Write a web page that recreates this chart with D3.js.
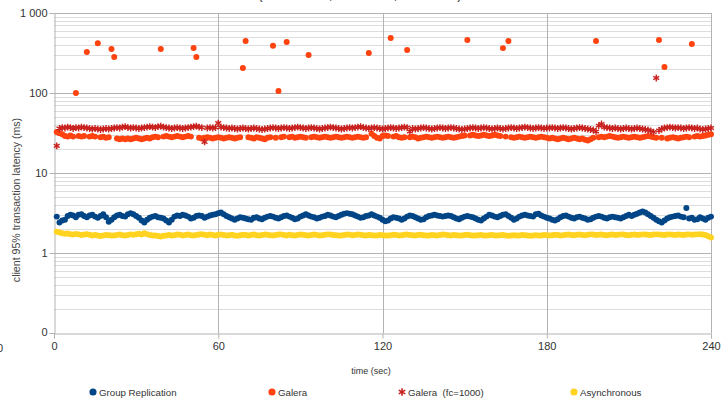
<!DOCTYPE html>
<html><head><meta charset="utf-8">
<script src="https://cdn.jsdelivr.net/npm/d3@7"></script>
<style>body{margin:0;background:#fff;}svg{display:block;font-family:"Liberation Sans",Arial,sans-serif;}</style>
</head><body><svg id="c" width="721" height="398"></svg>
<script>
const seriesNames = ["Group Replication", "Galera", "Galera  (fc=1000)", "Asynchronous"];
const xTicks = [0, 60, 120, 180, 240];
const yTicks = [0.1, 1, 10, 100, 1000];
const yTickLabels = ["0", "1", "10", "100", "1 000"];
const title = "OLTP RW Latencies (16 threads, 10 tables, 240 secs)";

const groupReplication = [
2.85,2.4,2.55,2.6,2.9,3.0,2.95,2.8,3.0,3.05,
2.9,2.8,2.95,3.0,2.85,2.75,2.9,3.05,2.8,2.45,
2.6,2.8,2.95,3.0,2.9,2.85,3.05,3.15,3.05,2.9,
2.75,2.55,2.4,2.6,2.75,2.85,2.9,2.8,2.75,2.7,
2.55,2.4,2.6,2.85,2.95,2.9,3.0,2.95,2.85,2.7,
2.75,2.9,2.95,2.9,2.75,2.85,2.95,3.0,3.05,3.15,
3.2,3.05,2.9,2.8,2.7,2.6,2.7,2.8,2.75,2.7,
2.65,2.6,2.75,2.8,2.7,2.65,2.75,2.85,2.9,2.85,
2.75,2.7,2.8,2.9,2.95,2.85,2.75,2.65,2.7,2.85,
2.95,3.05,2.95,2.85,2.8,2.7,2.75,2.85,2.9,3.0,
2.95,2.85,2.8,2.9,3.0,3.1,3.15,3.1,3.05,2.95,
2.85,2.75,2.8,2.9,2.95,3.05,2.95,2.85,2.75,2.6,
2.5,2.55,2.7,2.8,2.75,2.7,2.6,2.7,2.85,2.95,
2.9,2.8,2.7,2.6,2.65,2.8,2.9,2.95,3.0,2.95,
2.9,2.85,2.9,2.95,2.9,2.8,2.7,2.65,2.75,2.85,
2.9,2.85,2.8,2.7,2.6,2.55,2.7,2.85,3.0,2.95,
2.85,2.8,2.9,3.0,3.05,2.9,2.75,2.6,2.7,2.85,
2.95,3.0,2.95,2.9,2.85,3.05,3.1,2.95,2.85,2.75,
2.7,2.6,2.55,2.65,2.8,2.9,2.95,2.85,2.75,2.7,
2.8,2.85,2.75,2.7,2.6,2.65,2.75,2.85,2.9,2.85,
2.75,2.7,2.8,2.85,2.8,2.75,2.7,2.8,2.9,3.0,
2.9,3.0,3.1,3.2,3.3,3.2,3.05,2.9,2.75,2.6,
2.5,2.4,2.55,2.7,2.8,2.85,2.9,2.95,2.85,2.8,
3.65,2.7,2.75,2.6,2.65,2.8,2.7,2.6,2.75,2.85];

const galera = [
32.5,31.5,30.5,29,28.5,29.5,28.5,100,29,28.5,
29,325,28.5,29,28.5,420,28,28.5,27.5,28,
355,282,27,26.5,27,26.5,27,26.5,27,27.5,
27,26.5,27,27.5,27,28,28.5,28,355,28.5,
29,28.5,28,28.5,29,28.5,28,28.5,29,28.5,
365,282,27.5,27,27.5,28,27.5,27,27.5,28,
27.5,27,27.5,28,27.5,27,27.5,28,205,447,
28,27.5,27,28,27.5,27,26.5,27.5,28,390,
27.5,106,28,28.5,433,28,28.5,27.5,28,28.5,
28,27.5,298,28,28.5,28,27.5,28,28.5,28,
27.5,28,28.5,28,27.5,28,28.5,28,27.5,28,
28.5,28,27.5,28,316,31,29,27.5,27,29,
29.5,29,487,28.5,29,28,27.5,28,345,28,
28.5,28,27,27.5,28,28.5,28,27.5,28,28.5,
28,27.5,28,28.5,28,27.5,28,28.5,29,29.5,
460,29.5,30,29.5,29,29.5,30,29.5,29,29.5,
30,29.5,29,364,28.5,447,28,27.5,28,28.5,
28,27.5,28,28.5,28,27.5,28,28.5,28,27.5,
27,27.5,27,26.5,27,27.5,27,26.5,27,27.5,
27,26.5,27,26,25.5,26.5,27.5,447,28,28.5,
28,28.5,29,28.5,28,27.5,28,28.5,28,27.5,
28,28.5,28,27.5,28,28.5,29,28.5,28,27.5,
460,27.5,211,27,27.5,28,27.5,27,27.5,28,
28.5,28,410,28.5,29,28.5,29,29.5,30,30.5];

const galeraFc = [
21.8,36,37,36.5,37.5,37,36,37,36.5,37.5,
37,36.5,36,35.5,36,35.5,35,35.5,36,35.5,
36,36.5,37,36.5,37.5,38,37,36.5,37,36.5,
36,36.5,37,37.5,38,37.5,37,38,38.5,37.5,
37,36.5,36,36.5,37,36.5,36,36.5,37,37.5,
38,38.5,37.5,37,24.5,36.5,37,36.5,37,42,
37.5,37,36.5,36,36.5,36,35.5,36,36.5,36,
35.5,36,36.5,36,35.5,35,35.5,36,36.5,37,
36.5,36,36.5,37,36.5,36,36.5,37,37.5,37,
36.5,36,36.5,37,36.5,36,35.5,36,36.5,37,
37.5,37,36.5,36,35.5,36,36.5,37,36.5,37,
37.5,38,37,36.5,36,36.5,37,36.5,36,35.5,
36,36.5,37,36.5,36,36.5,37,37.5,37,33,
36,35.5,36,36.5,37,36.5,36,35.5,36,36.5,
37,36.5,36,36.5,37,36.5,36,35.5,35,35.5,
36,36.5,37,36.5,36,36.5,37,36.5,36,35.5,
36,36.5,36,35.5,36,36.5,37,36.5,36,36.5,
37,37.5,37,36.5,36,36.5,37,36.5,36,36.5,
36.5,37,36.5,36,36.5,37,36.5,36,35.5,36,
36.5,37,36.5,36,35.5,35,34.5,33,39,41,
37.5,37,36.5,36,36.5,36,35.5,36,36.5,36,
35.5,36,36.5,36,35.5,35,34.5,33.5,32.5,154,
34,35.5,36.5,37,37.5,37,36.5,37,36.5,36,
36.5,37,36.5,36,36.5,35.5,35,35.5,36,36.5];

const asynchronous = [
1.85,1.8,1.76,1.74,1.75,1.72,1.7,1.73,1.71,1.68,
1.7,1.72,1.69,1.66,1.68,1.65,1.63,1.66,1.68,1.67,
1.65,1.66,1.68,1.7,1.67,1.65,1.68,1.71,1.69,1.72,
1.74,1.7,1.76,1.72,1.68,1.65,1.66,1.63,1.61,1.64,
1.66,1.68,1.65,1.67,1.7,1.69,1.66,1.68,1.7,1.67,
1.65,1.68,1.7,1.72,1.69,1.67,1.7,1.68,1.66,1.69,
1.7,1.68,1.66,1.67,1.69,1.66,1.64,1.67,1.69,1.68,
1.66,1.68,1.7,1.67,1.65,1.68,1.7,1.69,1.67,1.66,
1.68,1.7,1.71,1.68,1.66,1.69,1.67,1.65,1.68,1.7,
1.69,1.67,1.66,1.68,1.7,1.68,1.66,1.67,1.69,1.71,
1.7,1.68,1.67,1.65,1.66,1.68,1.7,1.69,1.67,1.68,
1.7,1.69,1.67,1.66,1.68,1.67,1.65,1.66,1.68,1.67,
1.66,1.65,1.67,1.69,1.68,1.66,1.67,1.69,1.7,1.68,
1.67,1.66,1.68,1.69,1.67,1.65,1.66,1.68,1.67,1.66,
1.68,1.7,1.69,1.67,1.66,1.68,1.67,1.65,1.66,1.68,
1.69,1.67,1.66,1.65,1.67,1.68,1.66,1.65,1.67,1.68,
1.66,1.65,1.67,1.68,1.66,1.64,1.66,1.67,1.65,1.66,
1.68,1.67,1.65,1.64,1.66,1.67,1.65,1.66,1.68,1.67,
1.66,1.67,1.69,1.68,1.66,1.67,1.69,1.7,1.68,1.67,
1.69,1.7,1.68,1.67,1.69,1.71,1.7,1.68,1.69,1.7,
1.68,1.67,1.69,1.7,1.68,1.69,1.71,1.7,1.68,1.67,
1.69,1.7,1.68,1.69,1.71,1.7,1.69,1.68,1.7,1.71,
1.7,1.69,1.68,1.7,1.71,1.69,1.68,1.7,1.69,1.68,
1.7,1.71,1.69,1.7,1.71,1.72,1.7,1.68,1.62,1.56];

const colors = ["#004586", "#ff420e", "#c9211e", "#ffd320"];

const svg = d3.select("#c");
const x = d3.scaleLinear().domain([0, 240]).range([54, 711]);
const y = d3.scaleLog().domain([0.1, 1000]).range([333, 13]);

// minor gridlines
const minors = [];
for (let d = 0.1; d < 1000; d *= 10) for (let k = 2; k <= 9; k++) minors.push(d * k);
svg.append("g").selectAll("line").data(minors).join("line")
  .attr("x1", 54).attr("x2", 711)
  .attr("y1", d => Math.round(y(d)) + 0.5).attr("y2", d => Math.round(y(d)) + 0.5)
  .attr("stroke", "#dddddd").attr("stroke-width", 1);
// major gridlines
svg.append("g").selectAll("line").data(yTicks.slice(1)).join("line")
  .attr("x1", 54).attr("x2", 711)
  .attr("y1", d => Math.round(y(d)) + 0.5).attr("y2", d => Math.round(y(d)) + 0.5)
  .attr("stroke", "#b3b3b3").attr("stroke-width", 1);
svg.append("g").selectAll("line").data(xTicks.slice(1)).join("line")
  .attr("y1", 13).attr("y2", 333)
  .attr("x1", d => Math.round(x(d)) + 0.5).attr("x2", d => Math.round(x(d)) + 0.5)
  .attr("stroke", "#b3b3b3").attr("stroke-width", 1);

// axes
const yAxis = d3.axisLeft(y).tickValues(yTicks).tickFormat((d, i) => yTickLabels[i]).tickSize(5).tickPadding(2);
const gy = svg.append("g").attr("transform", "translate(54.5,0)").call(yAxis);
const xAxis = d3.axisBottom(x).tickValues(xTicks).tickFormat(d3.format("d")).tickSize(5).tickPadding(4);
const gx = svg.append("g").attr("transform", "translate(0,333.5)").call(xAxis);
[gy, gx].forEach(g => {
  g.select(".domain").attr("stroke", "#b3b3b3");
  g.selectAll(".tick line").attr("stroke", "#b3b3b3");
  g.selectAll("text").attr("fill", "#333").style("font-size", "11px").style("font-family", "Liberation Sans, Arial, sans-serif");
});
gy.selectAll(".tick").filter(d => d === 0.1).select("text").attr("dy", "0.2em");

// cut-off label at far left
svg.append("text").attr("x", 0).attr("y", 352).attr("text-anchor", "middle")
  .style("font-size", "11px").attr("fill", "#333").text("0");

// title (cut off at top): place so that "(" lands near x=258
const tt = svg.append("text").attr("x", 0).attr("y", -1)
  .style("font-size", "14px").attr("fill", "#333").text(title);
const pIdx = title.indexOf("(");
const pOff = tt.node().getSubStringLength(0, pIdx);
tt.attr("x", 258 - pOff);

// axis titles
svg.append("text").attr("x", 371).attr("y", 374).attr("text-anchor", "middle")
  .style("font-size", "9px").attr("fill", "#333").text("time (sec)");
svg.append("text").attr("transform", "translate(20,200) rotate(-90)").attr("text-anchor", "middle")
  .style("font-size", "10.6px").attr("fill", "#444").text("client 95% transaction latency (ms)");

// data
const allSeries = [groupReplication, galera, galeraFc, asynchronous];
const circ = d3.symbol().type(d3.symbolCircle).size(28);
const ast = d3.symbol().type(d3.symbolAsterisk).size(32);
allSeries.forEach((vals, si) => {
  const g = svg.append("g");
  if (si === 2) {
    g.selectAll("path").data(vals).join("path")
      .attr("transform", (d, i) => `translate(${x(i + 1)},${y(d)})`)
      .attr("d", ast).attr("fill", "none").attr("stroke", colors[si]).attr("stroke-width", 1.4);
  } else {
    g.selectAll("path").data(vals).join("path")
      .attr("transform", (d, i) => `translate(${x(i + 1)},${y(d)})`)
      .attr("d", circ).attr("fill", colors[si]);
  }
});

// legend
const legX = [93, 272, 402, 574];
const lg = svg.append("g");
seriesNames.forEach((n, i) => {
  if (i === 2) {
    lg.append("path").attr("transform", `translate(${legX[i]},392)`)
      .attr("d", d3.symbol().type(d3.symbolAsterisk).size(40)).attr("fill", "none")
      .attr("stroke", colors[i]).attr("stroke-width", 1.6);
  } else {
    lg.append("path").attr("transform", `translate(${legX[i]},392)`)
      .attr("d", d3.symbol().type(d3.symbolCircle).size(40)).attr("fill", colors[i]);
  }
  lg.append("text").attr("x", legX[i] + 6).attr("y", 396).style("font-size", "9.7px")
    .attr("fill", "#333").attr("xml:space", "preserve").style("white-space", "pre").text(n);
});
</script></body></html>
